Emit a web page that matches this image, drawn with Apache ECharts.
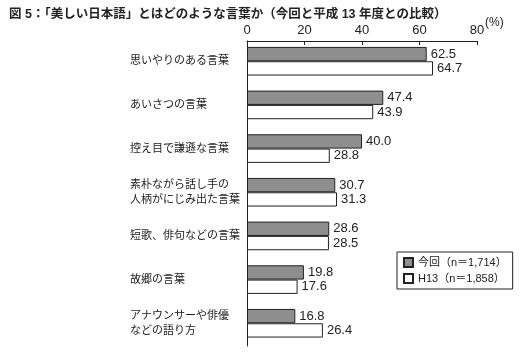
<!DOCTYPE html>
<html>
<head>
<meta charset="utf-8">
<script src="https://cdn.jsdelivr.net/npm/echarts@6/dist/echarts.min.js"></script>
<style>
  html, body { margin: 0; padding: 0; background: #fff; }
  #chart { width: 525px; height: 352px; }
</style>
</head>
<body>
<div id="chart"></div>
<script>
// 項目（上から順）
var categories = [
  '思いやりのある言葉',
  'あいさつの言葉',
  '控え目で謙遜な言葉',
  '素朴ながら話し手の\n人柄がにじみ出た言葉',
  '短歌、俳句などの言葉',
  '故郷の言葉',
  'アナウンサーや俳優\nなどの語り方'
];
var current = [62.5, 47.4, 40.0, 30.7, 28.6, 19.8, 16.8];
var h13 = [64.7, 43.9, 28.8, 31.3, 28.5, 17.6, 26.4];
var seriesNames = ['今回（n＝1,714）', 'H13（n＝1,858）'];
var xTicks = { min: 0, max: 80, interval: 20 };

var font = 'Arial, "Liberation Sans", "Noto Sans CJK JP", sans-serif';

var chart = echarts.init(document.getElementById('chart'));

var labelOpt = {
  show: true,
  position: 'right',
  distance: 4,
  fontSize: 13,
  color: '#222',
  fontFamily: font,
  formatter: function (p) { return p.value.toFixed(1); }
};

var option = {
  animation: false,
  backgroundColor: '#fff',
  textStyle: { fontFamily: font },
  title: [
    {
      text: '図 5：「美しい日本語」とはどのような言葉か（今回と平成 13 年度との比較）',
      left: 4, top: 3,
      textStyle: { fontSize: 12.5, fontWeight: 'bold', color: '#222', fontFamily: font }
    },
    {
      text: '(%)',
      left: 480, top: 12,
      textStyle: { fontSize: 12, fontWeight: 'normal', color: '#222', fontFamily: font }
    }
  ],
  legend: {
    orient: 'vertical',
    left: 397, top: 252,
    icon: 'rect',
    itemWidth: 9, itemHeight: 9, itemGap: 5,
    padding: [5, 6],
    borderColor: '#222', borderWidth: 1,
    textStyle: { fontSize: 11, color: '#222', fontFamily: font },
    data: seriesNames
  },
  grid: [
    // bars
    { left: 247, width: 230, top: 39.4, height: 305.7 },
    // visible axes
    { left: 247, width: 230, top: 41, height: 305 }
  ],
  xAxis: [
    {
      gridIndex: 0, type: 'value',
      min: xTicks.min, max: xTicks.max, interval: xTicks.interval,
      show: false
    },
    {
      gridIndex: 1, type: 'value', position: 'top',
      min: xTicks.min, max: xTicks.max, interval: xTicks.interval,
      axisLine: { show: true, lineStyle: { color: '#222', width: 1 } },
      axisTick: { show: true, inside: true, length: 4, lineStyle: { color: '#222' } },
      axisLabel: { fontSize: 13, color: '#222', margin: 4, fontFamily: font },
      splitLine: { show: false }
    }
  ],
  yAxis: [
    {
      gridIndex: 0, type: 'category', inverse: true,
      data: categories,
      axisLine: { show: false },
      axisTick: { show: false },
      axisLabel: {
        align: 'left', margin: 117,
        fontSize: 11, lineHeight: 15, color: '#222', fontFamily: font
      }
    },
    {
      gridIndex: 1, type: 'category', inverse: true,
      data: categories,
      axisLine: { show: true, lineStyle: { color: '#222', width: 1 } },
      axisTick: { show: false },
      axisLabel: { show: false }
    }
  ],
  series: [
    {
      name: seriesNames[0], type: 'bar',
      xAxisIndex: 0, yAxisIndex: 0,
      data: current,
      barWidth: 14.3, barGap: '0%',
      itemStyle: { color: '#8e8e8e', borderColor: '#222', borderWidth: 1 },
      label: labelOpt
    },
    {
      name: seriesNames[1], type: 'bar',
      xAxisIndex: 0, yAxisIndex: 0,
      data: h13,
      barWidth: 14.3, barGap: '0%',
      itemStyle: { color: '#fff', borderColor: '#222', borderWidth: 1 },
      label: labelOpt
    }
  ]
};

chart.setOption(option);
</script>
</body>
</html>
